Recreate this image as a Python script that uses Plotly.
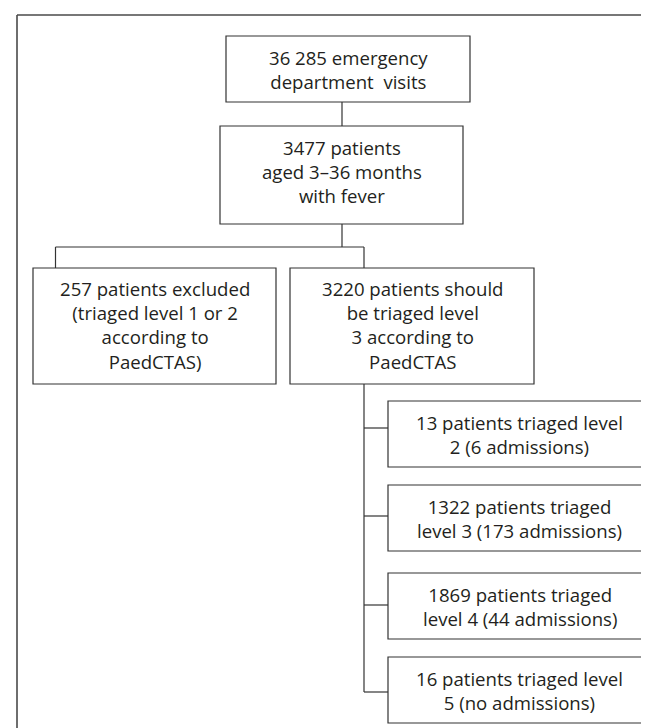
import plotly.graph_objects as go

# ---- data (text content of the flowchart) ----
top_lines = ["36 285 emergency", "department  visits"]
second_lines = ["3477 patients", "aged 3–36 months", "with fever"]
excluded_lines = ["257 patients excluded", "(triaged level 1 or 2", "according to", "PaedCTAS)"]
should_lines = ["3220 patients should", "be triaged level", "3 according to", "PaedCTAS"]
level_lines = [
    ["13 patients triaged level", "2 (6 admissions)"],
    ["1322 patients triaged", "level 3 (173 admissions)"],
    ["1869 patients triaged", "level 4 (44 admissions)"],
    ["16 patients triaged level", "5 (no admissions)"],
]

# ---- layout geometry (pixels, y downward) ----
W, H = 649, 728
LINE = "#333333"
TXT = "#231f20"
FONT = "Open Sans"
FS = 18.6

boxes = {
    "top": (218, 28, 462, 94),
    "second": (212, 118, 455, 216),
    "excl": (25, 260, 268, 376),
    "should": (282, 260, 526, 376),
}
small_boxes = [(380, 393, 643, 459), (380, 477, 643, 543), (380, 565, 643, 631), (380, 649, 643, 715)]
tick_y = [420, 508, 597, 684]

fig = go.Figure()
shapes = []
annos = []

def rect(b):
    shapes.append(dict(type="rect", x0=b[0], y0=b[1], x1=b[2], y1=b[3],
                       line=dict(color=LINE, width=1.2), fillcolor="white", layer="above"))

def seg(x0, y0, x1, y1, w=1.2, c=LINE):
    shapes.append(dict(type="line", x0=x0, y0=y0, x1=x1, y1=y1,
                       line=dict(color=c, width=w), layer="above"))

def text_block(lines, cx, cy):
    annos.append(dict(x=cx, y=cy, text="<br>".join(lines), showarrow=False,
                      xanchor="center", yanchor="middle", align="center",
                      font=dict(family=FONT, size=FS, color=TXT)))

# outer frame (only top and left edges are visible)
seg(9, 7, W + 5, 7, w=1.6, c="#4a4a4a")
seg(9, 7, 9, H + 5, w=1.6, c="#4a4a4a")

for b in boxes.values():
    rect(b)
for b in small_boxes:
    rect(b)

# connectors
seg(334, 94, 334, 118)
seg(334, 216, 334, 239)
seg(47.5, 239, 356, 239)
seg(47.5, 239, 47.5, 260)
seg(356, 239, 356, 260)
seg(356, 376, 356, tick_y[-1])
for ty in tick_y:
    seg(356, ty, 380, ty)

text_block(top_lines, 340, 61.5)
text_block(second_lines, 333.5, 163)
text_block(excluded_lines, 146.5, 317)
text_block(should_lines, 404, 317)
for b, lines in zip(small_boxes, level_lines):
    text_block(lines, (b[0] + b[2]) / 2, (b[1] + b[3]) / 2)

fig.update_layout(
    width=W, height=H, margin=dict(l=0, r=0, t=0, b=0),
    paper_bgcolor="white", plot_bgcolor="white",
    xaxis=dict(range=[0, W], visible=False, fixedrange=True),
    yaxis=dict(range=[H, 0], visible=False, fixedrange=True),
    shapes=shapes, annotations=annos, showlegend=False,
)
fig.write_html("out.html")
